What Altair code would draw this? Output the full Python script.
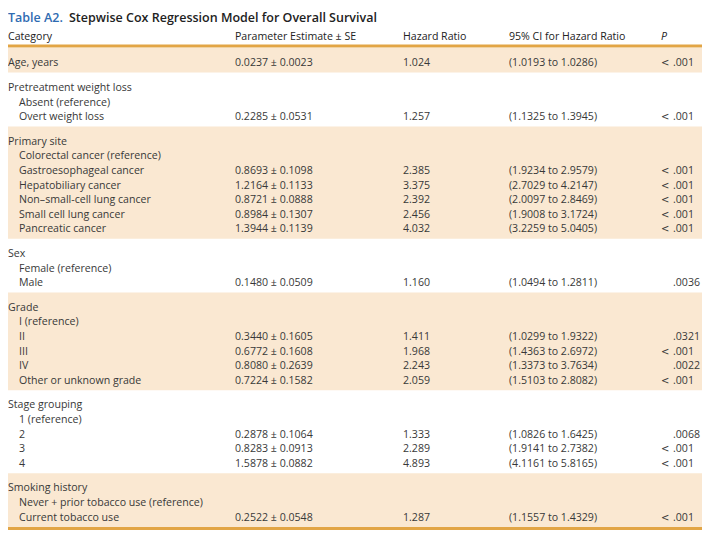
import altair as alt
import pandas as pd

# ---------------- data ----------------
labels = [
    "Age, years",
    "Pretreatment weight loss", "Absent (reference)", "Overt weight loss",
    "Primary site", "Colorectal cancer (reference)", "Gastroesophageal cancer",
    "Hepatobiliary cancer", "Non\u2013small-cell lung cancer", "Small cell lung cancer",
    "Pancreatic cancer",
    "Sex", "Female (reference)", "Male",
    "Grade", "I (reference)", "II", "III", "IV", "Other or unknown grade",
    "Stage grouping", "1 (reference)", "2", "3", "4",
    "Smoking history", "Never + prior tobacco use (reference)", "Current tobacco use",
]
group_ids = [0, 1, 1, 1, 2, 2, 2, 2, 2, 2, 2, 3, 3, 3, 4, 4, 4, 4, 4, 4,
             5, 5, 5, 5, 5, 6, 6, 6]
indents = [0, 0, 1, 1, 0, 1, 1, 1, 1, 1, 1, 0, 1, 1, 0, 1, 1, 1, 1, 1,
           0, 1, 1, 1, 1, 0, 1, 1]
estimates = [
    "0.0237 \u00b1 0.0023", "", "", "0.2285 \u00b1 0.0531",
    "", "", "0.8693 \u00b1 0.1098", "1.2164 \u00b1 0.1133", "0.8721 \u00b1 0.0888",
    "0.8984 \u00b1 0.1307", "1.3944 \u00b1 0.1139",
    "", "", "0.1480 \u00b1 0.0509",
    "", "", "0.3440 \u00b1 0.1605", "0.6772 \u00b1 0.1608", "0.8080 \u00b1 0.2639",
    "0.7224 \u00b1 0.1582",
    "", "", "0.2878 \u00b1 0.1064", "0.8283 \u00b1 0.0913", "1.5878 \u00b1 0.0882",
    "", "", "0.2522 \u00b1 0.0548",
]
hazard_ratios = [
    "1.024", "", "", "1.257",
    "", "", "2.385", "3.375", "2.392", "2.456", "4.032",
    "", "", "1.160",
    "", "", "1.411", "1.968", "2.243", "2.059",
    "", "", "1.333", "2.289", "4.893",
    "", "", "1.287",
]
conf_intervals = [
    "(1.0193 to 1.0286)", "", "", "(1.1325 to 1.3945)",
    "", "", "(1.9234 to 2.9579)", "(2.7029 to 4.2147)", "(2.0097 to 2.8469)",
    "(1.9008 to 3.1724)", "(3.2259 to 5.0405)",
    "", "", "(1.0494 to 1.2811)",
    "", "", "(1.0299 to 1.9322)", "(1.4363 to 2.6972)", "(1.3373 to 3.7634)",
    "(1.5103 to 2.8082)",
    "", "", "(1.0826 to 1.6425)", "(1.9141 to 2.7382)", "(4.1161 to 5.8165)",
    "", "", "(1.1557 to 1.4329)",
]
p_values = [
    "< .001", "", "", "< .001",
    "", "", "< .001", "< .001", "< .001", "< .001", "< .001",
    "", "", ".0036",
    "", "", ".0321", "< .001", ".0022", "< .001",
    "", "", ".0068", "< .001", "< .001",
    "", "", "< .001",
]
headers = ["Category", "Parameter Estimate \u00b1 SE", "Hazard Ratio",
           "95% CI for Hazard Ratio"]
p_header = "P"
title_label = "Table A2."
title_text = "Stepwise Cox Regression Model for Overall Survival"

# ---------------- layout ----------------
W, H = 694, 522
FONT = "Open Sans"
FS = 10.6
TEXT = "#383838"
BAND = "#fae8d2"
LINE = "#e2a545"
BLUE = "#2f6cb2"

col_x = {"cat": 0, "sub": 11, "est": 227, "hr": 395, "ci": 501,
         "lt": 653, "p": 665}
TITLE_Y = 10
HEAD_Y = 29
HEAD_LINE_Y = 38
TOP = 40
BOTTOM_LINE_Y = 520.5
PAD_T, PAD_B = 8, 2

df = pd.DataFrame({"label": labels, "group": group_ids, "indent": indents,
                   "est": estimates, "hr": hazard_ratios, "ci": conf_intervals,
                   "p": p_values})
sizes = df.groupby("group").size()
ROW = (BOTTOM_LINE_Y - 1.5 - TOP - len(sizes) * (PAD_T + PAD_B)) / len(df)
heights = PAD_T + PAD_B + ROW * sizes
starts = TOP + heights.cumsum() - heights
df["i"] = df.groupby("group").cumcount()
df["y"] = df["group"].map(starts) + PAD_T + ROW * (df["i"] + 0.5)

bands = pd.DataFrame({"y0": starts, "y1": starts + heights})
bands = bands[bands.index % 2 == 0].assign(x0=0, x1=W)

cells, ltcells = [], []
for _, r in df.iterrows():
    cells.append({"x": col_x["sub"] if r["indent"] else col_x["cat"],
                  "y": r["y"], "t": r["label"]})
    for key in ["est", "hr", "ci"]:
        if r[key]:
            cells.append({"x": col_x[key], "y": r["y"], "t": r[key]})
    if r["p"]:
        if r["p"].startswith("<"):
            ltcells.append({"x": col_x["lt"], "y": r["y"], "t": "<"})
        cells.append({"x": col_x["p"], "y": r["y"], "t": r["p"].lstrip("< ")})
cells = pd.DataFrame(cells)
ltcells = pd.DataFrame(ltcells)

head = pd.DataFrame({"x": [col_x["cat"], col_x["est"], col_x["hr"], col_x["ci"]],
                     "y": HEAD_Y, "t": headers})
phead = pd.DataFrame({"x": [col_x["lt"]], "y": [HEAD_Y], "t": [p_header]})
lines = pd.DataFrame({"y": [HEAD_LINE_Y, BOTTOM_LINE_Y], "x0": 0, "x1": W})
title = pd.DataFrame({"x": [0, 61], "y": TITLE_Y, "t": [title_label, title_text],
                      "c": ["blue", "dark"]})

xs = alt.Scale(domain=[0, W], nice=False, zero=False)
ys = alt.Scale(domain=[0, H], nice=False, zero=False, reverse=True)
X = lambda f: alt.X(f, scale=xs, axis=None)
Y = lambda f: alt.Y(f, scale=ys, axis=None)

band_layer = alt.Chart(bands).mark_rect(color=BAND).encode(
    x=X("x0:Q"), x2="x1:Q", y=Y("y0:Q"), y2="y1:Q")
line_layer = alt.Chart(lines).mark_rule(color=LINE, strokeWidth=3).encode(
    x=X("x0:Q"), x2="x1:Q", y=Y("y:Q"))
body_layer = alt.Chart(cells).mark_text(
    align="left", baseline="middle", font=FONT, fontSize=FS, color=TEXT).encode(
    x=X("x:Q"), y=Y("y:Q"), text="t:N")
lt_layer = alt.Chart(ltcells).mark_text(
    align="left", baseline="middle", font="DejaVu Sans", fontSize=10, color=TEXT).encode(
    x=X("x:Q"), y=Y("y:Q"), text="t:N")
head_layer = alt.Chart(head).mark_text(
    align="left", baseline="middle", font=FONT, fontSize=FS, fontWeight=500,
    color="#222222").encode(x=X("x:Q"), y=Y("y:Q"), text="t:N")
phead_layer = alt.Chart(phead).mark_text(
    align="left", baseline="middle", font=FONT, fontSize=FS, fontWeight=500,
    fontStyle="italic", color="#222222").encode(x=X("x:Q"), y=Y("y:Q"), text="t:N")
title_layer = alt.Chart(title).mark_text(
    align="left", baseline="middle", font=FONT, fontSize=12.5, fontWeight=600).encode(
    x=X("x:Q"), y=Y("y:Q"), text="t:N",
    color=alt.Color("c:N", scale=alt.Scale(domain=["blue", "dark"], range=[BLUE, "#222222"]),
                    legend=None))

chart = alt.layer(band_layer, line_layer, body_layer, lt_layer, head_layer, phead_layer,
                  title_layer).properties(
    width=W, height=H, padding=0, autosize=alt.AutoSizeParams(type="none")
).configure_view(stroke=None)

chart.save("out.html", embed_options={"renderer": "svg", "actions": False})
